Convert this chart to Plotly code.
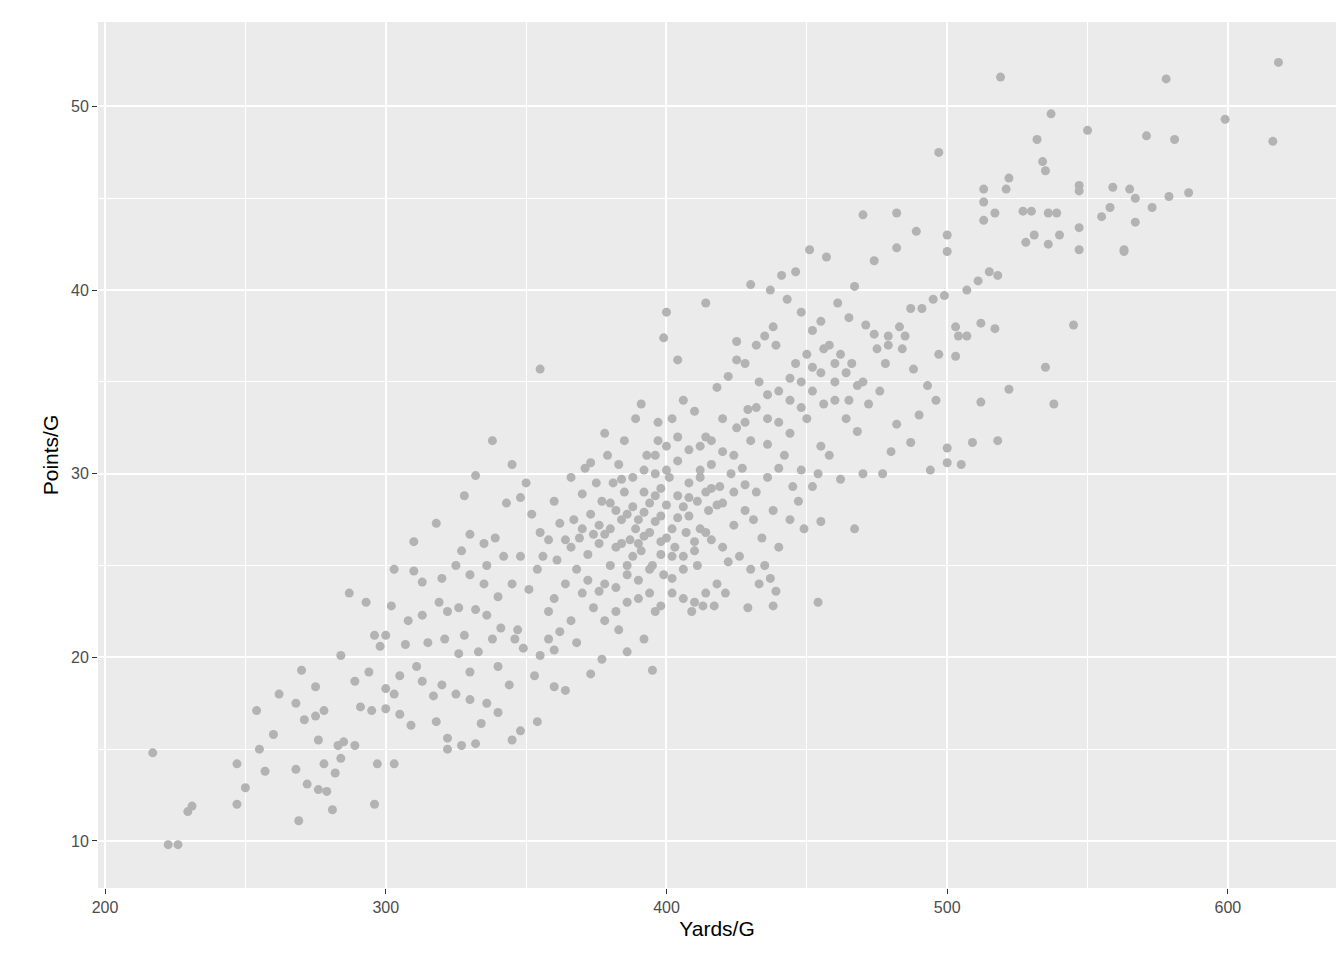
import plotly.graph_objects as go

# points (Yards/G, Points/G)
pts = [(497,47.5),(519,51.6),(578,51.5),(618,52.4),(616,48.1),(599,49.3),(581,48.2),(571,48.4),(550,48.7),(537,49.6),(532,48.2),(534,47.0),(535,46.5),(522,46.1),(521,45.5),(513,45.5),(513,44.8),(559,45.6),(565,45.5),(567,45.0),(586,45.3),(579,45.1),(573,44.5),(547,45.7),(547,45.4),(555,44.0),(558,44.5),(536,44.2),(539,44.2),(527,44.3),(530,44.3),(517,44.2),(513,43.8),(531,43.0),(528,42.6),(536,42.5),(540,43.0),(547,43.4),(547,42.2),(563,42.1),(567,43.7),(563,42.2),(545,38.1),(535,35.8),(538,33.8),(522,34.6),(518,31.8),(505,30.5),(500,30.6),(494,30.2),(509,31.7),(512,33.9),(500,31.4),(470,44.1),(482,44.2),(489,43.2),(500,43.0),(500,42.1),(482,42.3),(474,41.6),(451,42.2),(457,41.8),(467,40.2),(430,40.3),(441,40.8),(437,40.0),(446,41.0),(455,38.3),(414,39.3),(400,38.8),(399,37.4),(404,36.2),(355,35.7),(338,31.8),(345,30.5),(332,29.9),(350,29.5),(328,28.8),(318,27.3),(310,26.3),(303,24.8),(310,24.7),(287,23.5),(293,23.0),(302,22.8),(284,20.1),(289,18.7),(298,20.6),(296,12.0),(303,14.2),(297,14.2),(281,11.7),(279,12.7),(276,12.8),(284,14.5),(285,15.4),(271,16.6),(283,15.2),(276,15.5),(289,15.2),(295,17.1),(282,13.7),(278,14.2),(262,18.0),(268,17.5),(278,17.1),(300,18.3),(305,16.9),(309,16.3),(317,17.9),(318,16.5),(322,15.6),(327,15.2),(332,15.3),(334,16.4),(322,15.0),(345,15.5),(348,16.0),(354,16.5),(353,19.0),(364,18.2),(360,18.4),(373,19.1),(377,19.9),(386,20.3),(395,19.3),(392,21.0),(383,21.5),(368,20.8),(360,20.4),(340,19.5),(330,19.2),(326,20.2),(315,20.8),(307,20.7),(300,21.2),(296,21.2),(308,22.0),(313,22.3),(319,23.0),(322,22.5),(326,22.7),(332,22.6),(336,22.3),(341,21.6),(346,21.0),(349,20.5),(355,20.1),(358,22.5),(351,23.7),(345,24.0),(340,23.3),(335,24.0),(330,24.5),(325,25.0),(320,24.3),(313,24.1),(330,26.7),(335,26.2),(339,26.5),(343,28.4),(348,28.7),(352,27.8),(355,26.8),(356,25.5),(348,25.5),(342,25.5),(336,25.0),(327,25.8),(361,25.3),(364,26.4),(367,27.5),(370,28.9),(366,29.8),(360,28.5),(373,30.6),(378,32.2),(385,31.8),(389,33.0),(391,33.8),(397,32.8),(402,33.0),(406,34.0),(410,33.4),(414,32.0),(418,34.7),(422,35.3),(425,36.2),(425,37.2),(428,36.0),(432,37.0),(435,37.5),(438,38.0),(433,35.0),(429,33.5),(440,34.5),(446,36.0),(450,36.5),(455,35.5),(460,35.0),(465,34.0),(458,37.0),(462,36.5),(466,36.0),(470,35.0),(475,36.8),(479,37.5),(483,38.0),(487,39.0),(491,39.0),(495,39.5),(499,39.7),(503,38.0),(507,40.0),(511,40.5),(515,41.0),(518,40.8),(507,37.5),(512,38.2),(517,37.9),(504,37.5),(497,36.5),(493,34.8),(488,35.7),(484,36.8),(479,37.0),(471,38.1),(465,38.5),(461,39.3),(452,37.8),(448,38.8),(443,39.5),(439,37.0),(450,33.0),(455,31.5),(458,31.0),(464,33.0),(468,32.3),(470,30.0),(477,30.0),(480,31.2),(482,32.7),(487,31.7),(490,33.2),(496,34.0),(503,36.4),(462,29.7),(454,30.0),(448,30.2),(445,29.3),(455,27.4),(449,27.0),(467,27.0),(442,31.0),(436,31.6),(430,31.8),(425,32.5),(420,33.0),(416,30.5),(412,31.5),(408,29.5),(404,30.7),(400,31.5),(396,30.0),(392,29.0),(388,28.2),(384,27.5),(380,27.0),(376,26.2),(372,25.6),(368,24.8),(364,24.0),(380,25.0),(384,26.2),(388,25.5),(392,26.6),(396,27.4),(400,28.3),(404,28.8),(408,27.7),(412,27.0),(416,26.4),(420,26.0),(424,27.2),(428,28.0),(432,29.0),(436,29.8),(440,30.3),(444,32.2),(438,28.0),(434,26.5),(430,24.8),(426,25.5),(422,25.2),(418,24.0),(414,23.5),(410,23.0),(406,23.2),(402,24.3),(398,22.8),(394,23.5),(390,24.2),(386,23.0),(382,22.5),(378,22.0),(374,22.7),(370,23.5),(366,22.0),(362,21.4),(358,21.0),(395,25.0),(398,26.3),(403,26.0),(407,26.8),(411,28.5),(389,27.0),(385,29.0),(381,29.5),(377,28.5),(373,27.8),(369,26.5),(393,31.0),(397,31.8),(401,29.8),(383,30.5),(379,31.0),(375,29.5),(371,30.3),(387,26.4),(391,25.8),(399,24.5),(411,25.0),(415,28.0),(419,29.3),(423,30.0),(427,30.3),(431,27.5),(435,25.0),(439,23.6),(438,22.8),(437,24.3),(440,26.0),(444,27.5),(447,28.5),(452,29.3),(454,23.0),(433,24.0),(429,22.7),(421,23.5),(417,22.8),(413,22.8),(409,22.5),(396,22.5),(260,15.8),(250,12.9),(247,14.2),(247,12.0),(254,17.1),(255,15.0),(257,13.8),(270,19.3),(269,11.1),(268,13.9),(272,13.1),(275,18.4),(275,16.8),(217,14.8),(222.5,9.8),(226,9.8),(229.5,11.6),(231,11.9),(291,17.3),(294,19.2),(303,18.0),(313,18.7),(320,18.5),(325,18.0),(330,17.7),(336,17.5),(340,17.0),(344,18.5),(347,21.5),(338,21.0),(333,20.3),(328,21.2),(321,21.0),(311,19.5),(305,19.0),(300,17.2),
       (382,28.0),(386,27.8),(390,27.5),(394,28.4),(398,29.2),(402,27.0),(406,28.2),(410,26.3),(414,29.0),(418,28.3),(378,26.7),(382,26.0),(386,25.0),(390,26.2),(394,26.8),(398,27.7),(402,25.5),(406,24.8),(410,25.8),(414,26.8),(376,27.2),(380,28.4),(384,29.7),(388,29.8),(392,30.2),(396,28.8),(400,26.5),(404,27.6),(408,28.7),(412,29.8),(416,29.2),(420,28.4),(424,29.0),(428,29.4),(370,27.0),(374,26.7),(378,24.0),(382,23.8),(386,24.5),(390,23.2),(394,24.8),(398,25.6),(402,23.5),(406,25.5),(366,26.0),(362,27.3),(358,26.4),(354,24.8),(360,23.2),(372,24.2),(376,23.6),(392,27.9),(396,31.0),(400,30.2),(404,32.0),(408,31.3),(412,30.2),(416,31.8),(420,31.2),(424,31.0),(428,32.8),(432,33.6),(436,33.0),(440,32.8),(444,34.0),(448,35.0),(452,34.5),(456,33.8),(460,34.0),(464,35.5),(468,34.8),(472,33.8),(476,34.5),(456,36.8),(460,36.0),(452,35.8),(448,33.6),(444,35.2),(436,34.3),(478,36.0),(474,37.6),(485,37.5)]
yards = [p[0] for p in pts]
points = [p[1] for p in pts]

fig = go.Figure(go.Scatter(x=yards, y=points, mode="markers",
                           marker=dict(color="#b3b3b3", size=9)))

axis = dict(showgrid=True, gridcolor="white", gridwidth=1.8, zeroline=False,
            ticks="outside", ticklen=5, tickcolor="#333333", automargin=False,
            tickfont=dict(size=16, color="#4d4d4d", family="Liberation Sans, Arial"),
            minor=dict(showgrid=True, gridcolor="white", gridwidth=0.8))
fig.update_xaxes(axis, range=[197.5, 638.5], tickvals=[200, 300, 400, 500, 600],
                 minor_dtick=50, title=dict(text="Yards/G", font=dict(size=21, color="black"), standoff=6))
fig.update_yaxes(axis, range=[7.44, 54.6], tickvals=[10, 20, 30, 40, 50],
                 minor_dtick=5, title=dict(text="Points/G", font=dict(size=21, color="black"), standoff=6))
fig.update_layout(width=1344, height=960, plot_bgcolor="#ebebeb", paper_bgcolor="white",
                  font=dict(family="Liberation Sans, Arial"),
                  margin=dict(l=90, r=16, t=14, b=80), showlegend=False)
fig.write_html("out.html")
